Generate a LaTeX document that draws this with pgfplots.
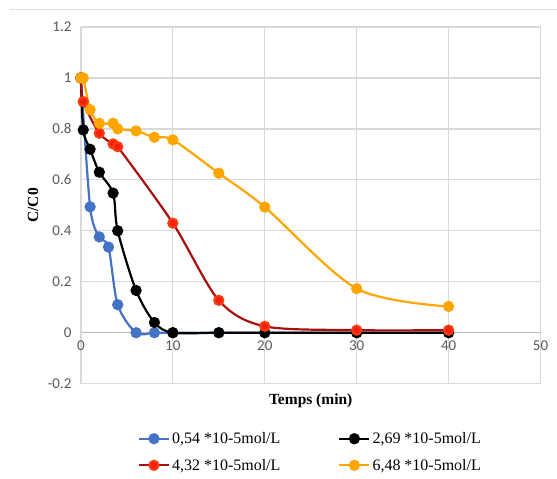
\documentclass[border=0pt]{standalone}
\usepackage{fontspec}
\setmainfont{Liberation Serif}
\newfontfamily\calib{Carlito}
\usepackage{pgfplots}
\pgfplotsset{compat=1.18}
\definecolor{serblue}{HTML}{4472C4}
\definecolor{serred}{HTML}{A81010}
\definecolor{serredmark}{HTML}{F41E10}
\definecolor{serorange}{HTML}{FFA500}
\definecolor{gridgray}{HTML}{D9D9D9}
\definecolor{ticktext}{HTML}{595959}

\begin{document}
\begin{tikzpicture}
\begin{axis}[
  scale only axis, width=460pt, height=357pt,
  xmin=0, xmax=50, ymin=-0.2, ymax=1.2,
  axis x line=middle, axis y line=left,
  x axis line style={-, draw=gray!55, line width=1.2pt},
  y axis line style={-, draw=gridgray, line width=1.2pt},
  hide obscured x ticks=false, hide obscured y ticks=false,
  xtick={0,10,20,30,40,50}, xticklabels={0,10,20,30,40,50},
  ytick={-0.2,0,0.2,0.4,0.6,0.8,1,1.2},
  yticklabels={-0.2,0,0.2,0.4,0.6,0.8,1,1.2},
  major tick length=0pt,
  grid=major, major grid style={draw=gridgray, line width=1.3pt},
  tick label style={font=\calib\fontsize{15}{17}\selectfont, text=ticktext},
  xticklabel style={yshift=-5pt},
  yticklabel style={xshift=-6pt},
  every axis x label/.style={at={(axis description cs:0.5,0)}, anchor=north, yshift=-7pt},
  every axis y label/.style={at={(axis description cs:-0.104,0.5)}, rotate=90, anchor=center},
  xlabel={\fontsize{15.5}{18}\selectfont\textbf{Temps (min)}},
  ylabel={\fontsize{15.5}{18}\selectfont\textbf{C/C0}},
  clip=false,
  legend columns=2,
  legend cell align=left,
  legend style={at={(axis description cs:0.117,-0.125)}, anchor=north west,
    draw=none, fill=none, font=\fontsize{16}{18}\selectfont,
    /tikz/every even column/.append style={column sep=56pt},
    row sep=10pt},
  legend image code/.code={\draw[mark repeat=2, mark phase=2, #1]
    plot coordinates {(0pt,0pt) (15pt,0pt) (30pt,0pt)};},
  every axis plot/.append style={line width=2.2pt, smooth, tension=0.5, mark=*, mark size=4.5pt},
]
\addplot[serblue, mark options={solid, fill=serblue, draw=serblue}] coordinates
  {(0,1) (1,0.494) (2,0.376) (3,0.336) (4,0.11) (6,0.0) (8,0.0) (10,0.0) (15,0.0) (20,0.0) (30,0.0) (40,0.0)};
\addplot[black, mark options={solid, fill=black, draw=black}] coordinates
  {(0,1) (0.25,0.796) (1,0.72) (2,0.63) (3.5,0.548) (4,0.40) (6,0.166) (8,0.04) (10,0.0) (15,0.0) (20,0.0) (30,0.0) (40,0.0)};
\addplot[serred, mark options={solid, fill=serredmark, draw=serredmark!70!orange}] coordinates
  {(0,1) (0.25,0.907) (2,0.783) (3.5,0.741) (4,0.73) (10,0.43) (15,0.127) (20,0.025) (30,0.01) (40,0.01)};
\addplot[serorange, mark options={solid, fill=serorange, draw=serorange}] coordinates
  {(0,1) (0.25,1.0) (1,0.875) (2,0.822) (3.5,0.822) (4,0.80) (6,0.792) (8,0.767) (10,0.757) (15,0.626) (20,0.493) (30,0.173) (40,0.103)};
\legend{{0,54 *10-5mol/L}, {2,69 *10-5mol/L}, {4,32 *10-5mol/L}, {6,48 *10-5mol/L}}
\end{axis}
\draw[gray!25, line width=1pt] ([xshift=-71pt,yshift=17pt]current axis.north west) -- ([xshift=16pt,yshift=17pt]current axis.north east);
\path ([xshift=-81pt,yshift=-95pt]current axis.south west) rectangle ([xshift=16pt,yshift=27pt]current axis.north east);
\end{tikzpicture}
\end{document}
